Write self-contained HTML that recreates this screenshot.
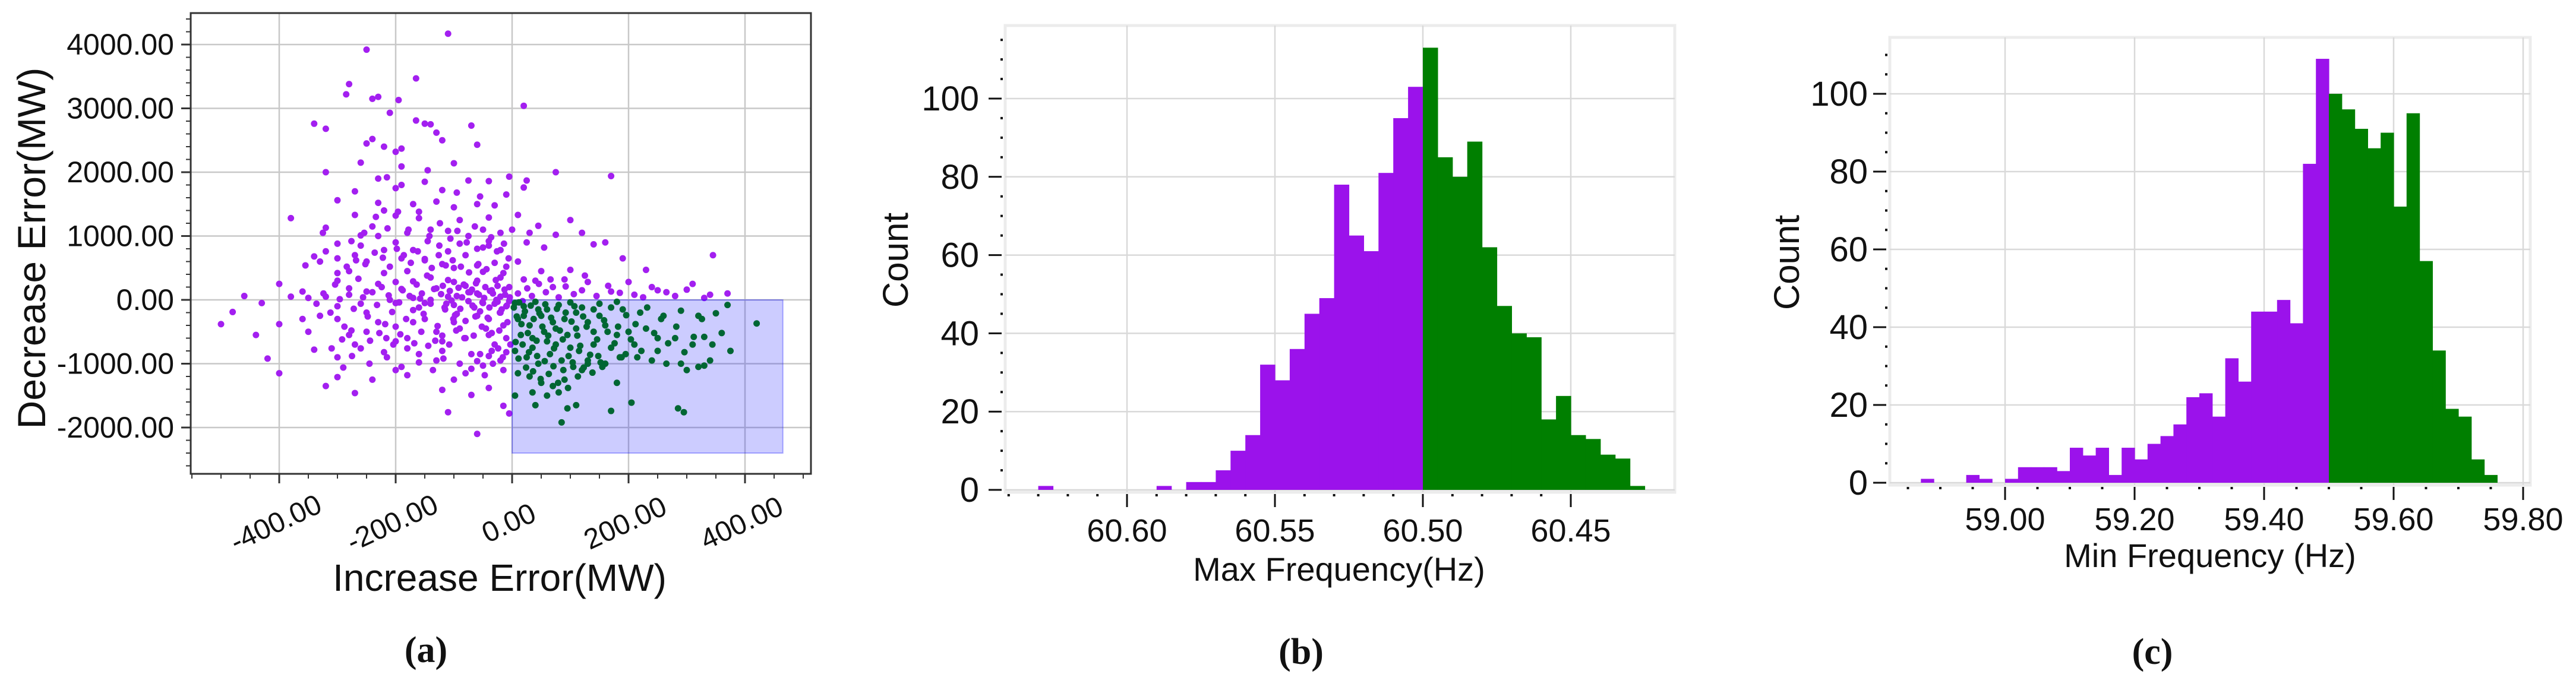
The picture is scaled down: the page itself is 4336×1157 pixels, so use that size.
<!DOCTYPE html>
<html><head><meta charset="utf-8"><style>
html,body{margin:0;padding:0;background:#fff;}
svg{display:block;font-family:"Liberation Sans","DejaVu Sans",sans-serif;}
</style></head><body>
<svg id="fig" width="4336" height="1157" viewBox="0 0 4336 1157" xmlns="http://www.w3.org/2000/svg">
<defs><clipPath id="clipA"><rect x="321" y="22" width="1044" height="776"/></clipPath></defs>
<rect width="4336" height="1157" fill="#fff"/>
<g id="pa"></g>
<g id="pb"></g>
<g id="pc"></g>
</svg>
<script>
// ---------- Panel (a) data ----------
const aXTicks = [-400, -200, 0, 200, 400];
const aXTickLabels = ["-400.00", "-200.00", "0.00", "200.00", "400.00"];
const aYTicks = [4000, 3000, 2000, 1000, 0, -1000, -2000];
const aYTickLabels = ["4000.00", "3000.00", "2000.00", "1000.00", "0.00", "-1000.00", "-2000.00"];
const aRegion = [0, 465, -2400, 0]; // xMin, xMax, yMin, yMax of shaded region
const purplePts = [[-110,4170],[-250,3920],[-165,3470],[-280,3380],[-285,3220],[-230,3180],[-240,3150],[-195,3130],[20,3040],[-210,2930],[-165,2810],[-150,2760],[-140,2750],[-340,2760],[-320,2680],[-70,2730],[-130,2620],[-120,2500],[-240,2520],[-250,2450],[-220,2400],[-60,2430],[-190,2370],[-200,2320],[-260,2150],[-100,2140],[-190,2090],[-320,2000],[-145,2030],[75,2000],[170,1940],[-5,1930],[25,1870],[-150,1850],[-75,1870],[-215,1920],[-270,1700],[-230,1900],[-200,1750],[-40,1860],[-120,1720],[-190,1800],[20,1760],[-10,1650],[-95,1680],[-55,1620],[-300,1560],[-170,1500],[-230,1520],[-130,1540],[-30,1480],[-60,1500],[-100,1450],[-220,1400],[-160,1380],[-270,1330],[-380,1280],[-200,1320],[-40,1290],[10,1330],[100,1250],[-90,1250],[-240,1150],[-320,1130],[-140,1100],[-110,1080],[-50,1100],[-180,1050],[-230,1000],[-260,1010],[-325,1050],[0,1100],[45,1160],[30,1050],[120,1050],[75,1020],[-75,1000],[-20,1050],[-145,920],[-200,900],[-90,880],[-40,920],[-125,850],[-260,850],[-60,800],[-170,780],[-220,780],[-20,780],[-110,760],[160,900],[140,870],[-40,850],[25,900],[55,820],[-270,700],[-340,680],[-300,650],[-190,650],[-80,700],[-150,620],[-250,600],[-120,560],[-30,580],[-60,540],[10,600],[-10,520],[-355,540],[-100,500],[-180,450],[-280,450],[-220,420],[-50,440],[50,450],[100,470],[190,650],[345,700],[230,470],[-330,600],[-400,250],[-380,50],[-360,130],[-300,300],[-230,250],[-140,350],[-170,290],[-100,280],[-60,300],[-20,350],[20,320],[40,300],[70,200],[120,150],[170,130],[210,80],[250,150],[280,60],[310,250],[340,80],[370,100],[130,280],[90,320],[-80,220],[-130,180],[-190,170],[-250,130],[-280,80],[-320,50],[-350,30],[-430,-50],[-460,60],[-480,-190],[-500,-380],[-440,-550],[-420,-920],[-400,-1150],[-400,-380],[-360,-300],[-330,-250],[-340,-780],[-300,-900],[-290,-1060],[-300,-1210],[-320,-1350],[-270,-1460],[-240,-1250],[-200,-1100],[-180,-1180],[-120,-1410],[-70,-1490],[-110,-1760],[-15,-1660],[-5,-1780],[-60,-2100],[-40,-1380],[-80,-1150],[-50,-1030],[-20,-950],[-130,-950],[-160,-850],[-220,-820],[-270,-700],[-250,-500],[-200,-420],[-150,-300],[-100,-350],[-60,-250],[-20,-200],[-250,-200],[-300,-100],[-200,-50],[-150,-50],[-100,-80],[-50,-50],[-10,-100],[-80,-600],[-40,-550],[-120,-650],[-180,-600],[-230,-350],[-160,-120],[-140,0],[-60,100],[-20,50],[-110,50],[-170,30],[-210,0],[-260,-60],[-300,-300],[-280,-550],[-120,-800],[-70,-850],[-30,-700],[-15,-400],[-90,-450],[-40,-300],[-10,-600],[-200,-650],[-130,-500],[-35,150],[-75,120],[-5,200],[-155,100],[-115,-150],[-65,-120],[-25,-30],[-95,-220],[-45,-450],[-170,-350],[-55,-850],[-15,-1100],[-35,-800]];
const purpleCore = [[-5,-20],[-12,80],[-18,-150],[-25,220],[-30,-60],[-38,140],[-42,-280],[-48,30],[-55,-180],[-62,260],[-68,-90],[-72,120],[-80,-330],[-86,40],[-92,190],[-98,-240],[-104,-10],[-110,310],[-116,-120],[-122,90],[-128,-410],[-134,170],[-140,-60],[-146,380],[-152,-220],[-158,20],[-164,240],[-170,-160],[-176,60],[-182,-300],[-188,150],[-194,-40],[-200,280],[-206,-190],[-212,70],[-218,-380],[-224,200],[-232,-80],[-240,120],[-248,-260],[-256,40],[-264,330],[-272,-140],[-280,180],[-288,-420],[-296,10],[-304,240],[-312,-200],[-324,100],[-336,-60],[-8,-350],[-15,420],[-22,-480],[-28,310],[-35,-520],[-44,480],[-52,-420],[-58,560],[-66,-560],[-74,430],[-82,-600],[-88,520],[-96,-480],[-102,620],[-108,-700],[-114,540],[-120,-560],[-126,700],[-132,-640],[-138,500],[-144,-720],[-150,640],[-156,-500],[-162,760],[-168,-680],[-174,580],[-180,-760],[-186,700],[-192,-540],[-198,800],[-204,-700],[-210,520],[-216,-600],[-222,660],[-228,-520],[-236,740],[-244,-640],[-252,560],[-260,-760],[-268,620],[-276,-480],[-284,520],[-292,-620],[-300,420],[-3,-700],[-10,-820],[-16,-900],[-24,-760],[-33,-1000],[-40,-880],[-47,-1180],[-60,-960],[-70,-1080],[-90,-1000],[-100,-1250],[-118,-920],[-136,-1100],[-160,-980],[-190,-1050],[-215,-900],[-245,-1000],[-275,-880],[-310,-760],[-350,-500],[-6,650],[-14,880],[-26,760],[-36,980],[-50,820],[-64,1150],[-78,900],[-94,1080],[-106,960],[-124,1200],[-142,1000],[-160,1280],[-178,1100],[-196,1380],[-214,1120],[-234,1300],[-254,1050],[-276,920],[-300,880],[-320,760],[10,100],[18,-20],[26,180],[34,60],[46,250],[58,120],[66,320],[80,40],[92,210],[106,90],[125,380],[145,60],[165,220],[185,110],[200,280],[225,40],[240,200],[265,120],[300,160],[330,30],[-4,40],[-9,-90],[-13,160],[-21,-200],[-27,0],[-33,100],[-39,-120],[-46,200],[-51,-40],[-57,80],[-63,-260],[-69,160],[-75,-20],[-83,240],[-89,-140],[-95,60],[-101,-300],[-107,140],[-113,-60],[-119,220]];
const greenPts = [[5,-50],[20,-100],[40,-30],[60,-150],[80,-80],[100,-40],[120,-120],[150,-60],[180,-30],[190,-150],[220,-200],[260,-250],[290,-170],[320,-250],[350,-210],[370,-80],[10,-300],[30,-400],[50,-250],[70,-350],[90,-300],[110,-450],[130,-350],[160,-400],[200,-500],[230,-450],[250,-600],[280,-600],[310,-700],[330,-580],[375,-800],[420,-370],[15,-550],[35,-600],[55,-500],[75,-700],[95,-550],[115,-800],[140,-700],[170,-750],[195,-850],[215,-900],[240,-950],[265,-1000],[290,-1000],[320,-1050],[340,-950],[300,-1100],[5,-800],[25,-900],[45,-1000],[65,-850],[85,-950],[105,-1050],[130,-1000],[155,-1050],[185,-900],[10,-1150],[30,-1200],[50,-1300],[70,-1350],[90,-1250],[120,-1100],[180,-1300],[5,-1500],[35,-1450],[60,-1500],[80,-1450],[40,-1650],[95,-1700],[110,-1650],[85,-1920],[170,-1740],[205,-1610],[285,-1700],[295,-1760],[130,-950],[100,-750],[60,-650],[20,-250],[150,-250],[210,-700],[250,-800],[45,-150],[75,-450],[35,-750],[140,-500],[110,-200],[180,-550],[330,-1030]];
const greenCore = [[3,-120],[8,-260],[12,-40],[16,-380],[22,-180],[27,-520],[32,-90],[37,-300],[42,-640],[47,-210],[52,-420],[57,-70],[62,-560],[67,-280],[72,-760],[77,-140],[82,-480],[87,-620],[92,-200],[97,-880],[102,-340],[107,-100],[112,-560],[117,-720],[122,-260],[128,-420],[134,-860],[140,-150],[146,-620],[152,-980],[158,-320],[164,-500],[170,-120],[176,-680],[182,-420],[188,-900],[196,-240],[204,-620],[212,-380],[222,-800],[232,-120],[244,-520],[256,-300],[268,-680],[282,-420],[296,-820],[312,-580],[326,-300],[344,-700],[360,-520],[6,-660],[11,-920],[18,-700],[24,-1060],[29,-820],[36,-1120],[43,-880],[49,-1240],[56,-960],[63,-1160],[71,-1040],[79,-1300],[88,-1100],[96,-1380],[104,-980],[113,-1200],[123,-1060],[138,-1140],[148,-880],[160,-1000]];

// ---------- Panel (b) data ----------
const bPurpleEdges = [60.500,60.505,60.510,60.515,60.520,60.525,60.530,60.535,60.540,60.545,60.550,60.555,60.560,60.565,60.570,60.575,60.585,60.625];
const bPurpleCounts = [103,95,81,61,65,78,49,45,36,28,32,14,10,5,2,2,1,1];
const bGreenEdges = [60.495,60.490,60.485,60.480,60.475,60.470,60.465,60.460,60.455,60.450,60.445,60.440,60.435,60.430,60.425];
const bGreenCounts = [113,85,80,89,62,47,40,39,18,24,14,13,9,8,1];
const bXTicks = [60.60,60.55,60.50,60.45];
const bXTickLabels = ["60.60","60.55","60.50","60.45"];
const bYTicks = [0,20,40,60,80,100];
const bYTickLabels = ["0","20","40","60","80","100"];

// ---------- Panel (c) data ----------
const cPurpleEdges = [59.48,59.46,59.44,59.42,59.40,59.38,59.36,59.34,59.32,59.30,59.28,59.26,59.24,59.22,59.20,59.18,59.16,59.14,59.12,59.10,59.08,59.06,59.04,59.02,59.00,58.96,58.94,58.87];
const cPurpleCounts = [109,82,41,47,44,44,26,32,17,23,22,15,12,10,6,9,2,9,7,9,3,4,4,4,1,1,2,1];
const cGreenEdges = [59.50,59.52,59.54,59.56,59.58,59.60,59.62,59.64,59.66,59.68,59.70,59.72,59.74];
const cGreenCounts = [100,96,91,86,90,71,95,57,34,19,17,6,2];
const cXTicks = [59.00,59.20,59.40,59.60,59.80];
const cXTickLabels = ["59.00","59.20","59.40","59.60","59.80"];
const cYTicks = [0,20,40,60,80,100];
const cYTickLabels = ["0","20","40","60","80","100"];

const NS = "http://www.w3.org/2000/svg";
function mk(parent, tag, attrs, text) {
  const e = document.createElementNS(NS, tag);
  for (const k in attrs) e.setAttribute(k, attrs[k]);
  if (text !== undefined) e.textContent = text;
  parent.appendChild(e);
  return e;
}

// ===== Panel (a) =====
(function(){
  const g = document.getElementById('pa');
  const L = 321, R = 1365, T = 22, B = 798;
  const xs = v => 862 + v * 0.98;
  const ys = v => 505 - v * 0.1075;
  aXTicks.forEach(v => {
    const ln = mk(g, 'line', {x1: xs(v), x2: xs(v), y1: T, y2: B, stroke: '#c8c8c8', 'stroke-width': 2.5});
    
    
  });
  aYTicks.forEach(v => {
    const ln = mk(g, 'line', {x1: L, x2: R, y1: ys(v), y2: ys(v), stroke: '#c8c8c8', 'stroke-width': 2.5});
    
    
  });
  const pg = mk(g, 'g', {'clip-path': 'url(#clipA)'});
  
  
  purplePts.concat(purpleCore).forEach(p => {
    const c = mk(pg, 'circle', {cx: xs(p[0]), cy: ys(p[1]), r: 5.5, fill: '#a31ff0'});
    
    
  });
  const rg = mk(pg, 'rect', {x: xs(aRegion[0]), y: ys(aRegion[3]), width: xs(aRegion[1]) - xs(aRegion[0]), height: ys(aRegion[2]) - ys(aRegion[3]), fill: 'rgba(0,0,255,0.2)', stroke: 'rgba(0,0,255,0.3)', 'stroke-width': 2});
  
  
  greenPts.concat(greenCore).forEach(p => {
    const c = mk(pg, 'circle', {cx: xs(p[0]), cy: ys(p[1]), r: 5.5, fill: '#006633'});
    
    
  });
  const fr = mk(g, 'rect', {x: L, y: T, width: R - L, height: B - T, fill: 'none', stroke: '#333', 'stroke-width': 3});
  
  
  for (let v = -2600; v <= 4400; v += 200) {
    const y = ys(v); if (y < T || y > B) continue;
    const major = v % 1000 === 0;
    const t = mk(g, 'line', {x1: L - (major ? 16 : 8), x2: L, y1: y, y2: y, stroke: '#333', 'stroke-width': major ? 3 : 2});
    
    
  }
  for (let v = -550; v <= 500; v += 50) {
    const x = xs(v); if (x < L || x > R) continue;
    const major = v % 200 === 0;
    const t = mk(g, 'line', {x1: x, x2: x, y1: B, y2: B + (major ? 16 : 8), stroke: '#333', 'stroke-width': major ? 3 : 2});
    
    
  }
  aYTicks.forEach((v, i) => {
    const t = mk(g, 'text', {x: 293, y: ys(v) + 17, 'text-anchor': 'end', 'font-size': 50, fill: '#111'}, aYTickLabels[i]);
    
    
  });
  aXTicks.forEach((v, i) => {
    const cx = xs(v) - 6, cy = 880;
    const t = mk(g, 'text', {x: cx, y: cy + 17, 'text-anchor': 'middle', 'font-size': 48, fill: '#111', transform: `rotate(-25 ${cx} ${cy})`}, aXTickLabels[i]);
    
    
  });
  const xl = mk(g, 'text', {x: 841, y: 995, 'text-anchor': 'middle', 'font-size': 64, fill: '#111'}, 'Increase Error(MW)');
  
  
  const yl = mk(g, 'text', {x: 0, y: 0, 'text-anchor': 'middle', 'font-size': 66, fill: '#111', transform: 'translate(76 418) rotate(-90)'}, 'Decrease Error(MW)');
  
  
  const cap = mk(g, 'text', {x: 717, y: 1115, 'text-anchor': 'middle', 'font-size': 62, 'font-weight': 'bold', 'font-family': '"Liberation Serif", serif', fill: '#111'}, '(a)');
  
  
})();

// ===== Histogram helper =====
function hist(gid, o) {
  const g = document.getElementById(gid);
  const {L, R, T, B, xs, ys, bw} = o;
  const bg = mk(g, 'rect', {x: L, y: T, width: R - L, height: B - T, fill: '#fff', stroke: '#ececec', 'stroke-width': 5});
  
  
  o.xTicks.forEach(v => {
    const ln = mk(g, 'line', {x1: xs(v), x2: xs(v), y1: T, y2: B, stroke: '#d9d9d9', 'stroke-width': 2.5});
    
    
  });
  o.yTicks.forEach(v => {
    const ln = mk(g, 'line', {x1: L, x2: R, y1: ys(v), y2: ys(v), stroke: '#d9d9d9', 'stroke-width': 2.5});
    
    
  });
  function bars(edges, counts, color, name) {
    for (let i = 0; i < edges.length; i++) {
      const x1 = xs(edges[i]), x2 = xs(edges[i] + bw);
      const r = mk(g, 'rect', {x: Math.min(x1, x2), y: ys(counts[i]), width: Math.abs(x2 - x1) + 0.6, height: ys(0) - ys(counts[i]), fill: color});
      
      
    }
  }
  bars(o.pE, o.pC, '#9b12eb', 'purple-bar');
  bars(o.gE, o.gC, '#007f00', 'green-bar');
  for (let v = 0; v <= o.yMax; v += 5) {
    if (v % 20 === 0) {
      const t = mk(g, 'line', {x1: L - 28, x2: L - 6, y1: ys(v), y2: ys(v), stroke: '#111', 'stroke-width': 3});
      
      
    } else {
      const d = mk(g, 'rect', {x: L - 8, y: ys(v) - 2, width: 4, height: 4, fill: '#111'});
      
      
    }
  }
  o.xMinor.forEach(v => {
    const d = mk(g, 'rect', {x: xs(v) - 2, y: B + 3, width: 4, height: 4, fill: '#111'});
    
    
  });
  o.xTicks.forEach((v, i) => {
    const t = mk(g, 'line', {x1: xs(v), x2: xs(v), y1: B + 3, y2: B + 25, stroke: '#111', 'stroke-width': 3});
    
    
    const tx = mk(g, 'text', {x: xs(v), y: o.xLabY, 'text-anchor': 'middle', 'font-size': 54, fill: '#111'}, o.xLabs[i]);
    
    
  });
  o.yTicks.forEach((v, i) => {
    const t = mk(g, 'text', {x: o.yLabR, y: ys(v) + 20, 'text-anchor': 'end', 'font-size': 58, fill: '#111'}, o.yLabs[i]);
    
    
  });
  const xl = mk(g, 'text', {x: o.xTitleX, y: o.xTitleY, 'text-anchor': 'middle', 'font-size': 56, fill: '#111'}, o.xTitle);
  
  
  const yl = mk(g, 'text', {x: 0, y: 0, 'text-anchor': 'middle', 'font-size': 60, fill: '#111', transform: `translate(${o.yTitleX} ${o.yTitleY}) rotate(-90)`}, 'Count');
  
  
  const cap = mk(g, 'text', {x: o.capX, y: 1118, 'text-anchor': 'middle', 'font-size': 62, 'font-weight': 'bold', 'font-family': '"Liberation Serif", serif', fill: '#111'}, o.cap);
  
  
}

const bMinor = []; for (let k = 0; k <= 19; k++) bMinor.push(+(60.64 - k * 0.01).toFixed(2));
hist('pb', {
  L: 1692, R: 2819, T: 43, B: 829,
  xs: v => 2395 + (60.50 - v) * 4980,
  ys: v => 825 - v * 6.59,
  bw: 0.005, yMax: 115,
  pE: bPurpleEdges, pC: bPurpleCounts, gE: bGreenEdges, gC: bGreenCounts,
  xTicks: bXTicks, xLabs: bXTickLabels, yTicks: bYTicks, yLabs: bYTickLabels,
  xMinor: bMinor.filter(v => !bXTicks.some(t => Math.abs(t - v) < 1e-6)),
  xLabY: 912, yLabR: 1648,
  xTitle: 'Max Frequency(Hz)', xTitleX: 2254, xTitleY: 978,
  yTitleX: 1528, yTitleY: 438, capX: 2190, cap: '(b)', capName: 'panel-b-caption'
});

const cMinor = []; for (let k = 0; k <= 18; k++) cMinor.push(+(58.85 + k * 0.05).toFixed(2));
hist('pc', {
  L: 3181, R: 4259, T: 63, B: 817,
  xs: v => 3375 + (v - 59.00) * 1090,
  ys: v => 813 - v * 6.55,
  bw: 0.02, yMax: 112,
  pE: cPurpleEdges, pC: cPurpleCounts, gE: cGreenEdges, gC: cGreenCounts,
  xTicks: cXTicks, xLabs: cXTickLabels, yTicks: cYTicks, yLabs: cYTickLabels,
  xMinor: cMinor.filter(v => !cXTicks.some(t => Math.abs(t - v) < 1e-6) && v < 59.82),
  xLabY: 893, yLabR: 3144,
  xTitle: 'Min Frequency (Hz)', xTitleX: 3720, xTitleY: 955,
  yTitleX: 3028, yTitleY: 442, capX: 3623, cap: '(c)', capName: 'panel-c-caption'
});
</script>
</body></html>
